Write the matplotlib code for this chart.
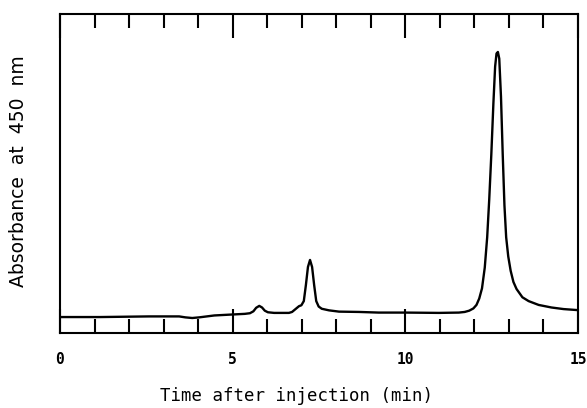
"""
HPLC trace: absorbance at 450 nm vs time after injection.
"""
import matplotlib
matplotlib.use("Agg")
from matplotlib import pyplot as plt
from matplotlib.ticker import MultipleLocator

# trace (time in min, absorbance in arbitrary units, 0..1 = axis height)
time_min = [0.0, 1.16, 2.58, 3.45, 3.63, 3.83, 4.03, 4.47, 4.99, 5.35, 5.50, 5.60,
            5.68, 5.77, 5.85, 5.93, 6.02, 6.20, 6.63, 6.72, 6.82, 6.92, 6.99, 7.06,
            7.12, 7.18, 7.24, 7.30, 7.36, 7.42, 7.49, 7.58, 7.79, 8.08, 8.66, 9.23,
            10.01, 10.97, 11.55, 11.72, 11.85, 11.97, 12.06, 12.14, 12.22, 12.30,
            12.37, 12.43, 12.49, 12.55, 12.60, 12.64, 12.68, 12.72, 12.77, 12.82,
            12.87, 12.92, 12.98, 13.05, 13.13, 13.22, 13.39, 13.57, 13.86, 14.23,
            14.58, 14.96]
absorbance = [0.050, 0.050, 0.052, 0.052, 0.049, 0.047, 0.049, 0.055, 0.058, 0.060,
              0.062, 0.068, 0.079, 0.085, 0.080, 0.070, 0.065, 0.063, 0.063, 0.066,
              0.075, 0.084, 0.087, 0.100, 0.150, 0.207, 0.229, 0.207, 0.150, 0.100,
              0.083, 0.076, 0.071, 0.067, 0.066, 0.064, 0.064, 0.063, 0.064, 0.066,
              0.070, 0.077, 0.088, 0.108, 0.140, 0.205, 0.300, 0.420, 0.560, 0.720,
              0.835, 0.876, 0.881, 0.860, 0.740, 0.560, 0.400, 0.300, 0.240, 0.195,
              0.160, 0.138, 0.112, 0.100, 0.088, 0.080, 0.075, 0.072]

x_ticks = [0, 5, 10, 15]


def main():
    fig = plt.figure(figsize=(5.87, 4.08), dpi=100)
    ax = fig.add_axes([60 / 587, 75 / 408, 518 / 587, 319 / 408])
    ax.plot(time_min, absorbance, color="black", lw=1.7, solid_joinstyle="round")

    ax.set_xlim(0, 15)
    ax.set_ylim(0, 1)
    ax.set_yticks([])
    ax.set_xticks(x_ticks)
    ax.set_xticklabels([str(t) for t in x_ticks], family="DejaVu Sans Mono",
                       fontweight="bold", fontsize=10.5)
    ax.xaxis.set_minor_locator(MultipleLocator(1))
    ax.tick_params(axis="x", which="both", direction="in", top=True, bottom=True,
                   width=1.5, pad=14)
    ax.tick_params(axis="x", which="major", length=17)
    ax.tick_params(axis="x", which="minor", length=10)
    for sp in ax.spines.values():
        sp.set_linewidth(1.5)

    ax.set_xlabel("Time after injection (min)", family="DejaVu Sans Mono", fontsize=12.5)
    ax.xaxis.set_label_coords(0.457, -0.168)
    ax.set_ylabel("Absorbance  at  450  nm", family="DejaVu Sans", fontsize=13.5)
    ax.yaxis.set_label_coords(-0.062, 0.508)

    fig.savefig("out.png", dpi=100)


if __name__ == "__main__":
    main()
